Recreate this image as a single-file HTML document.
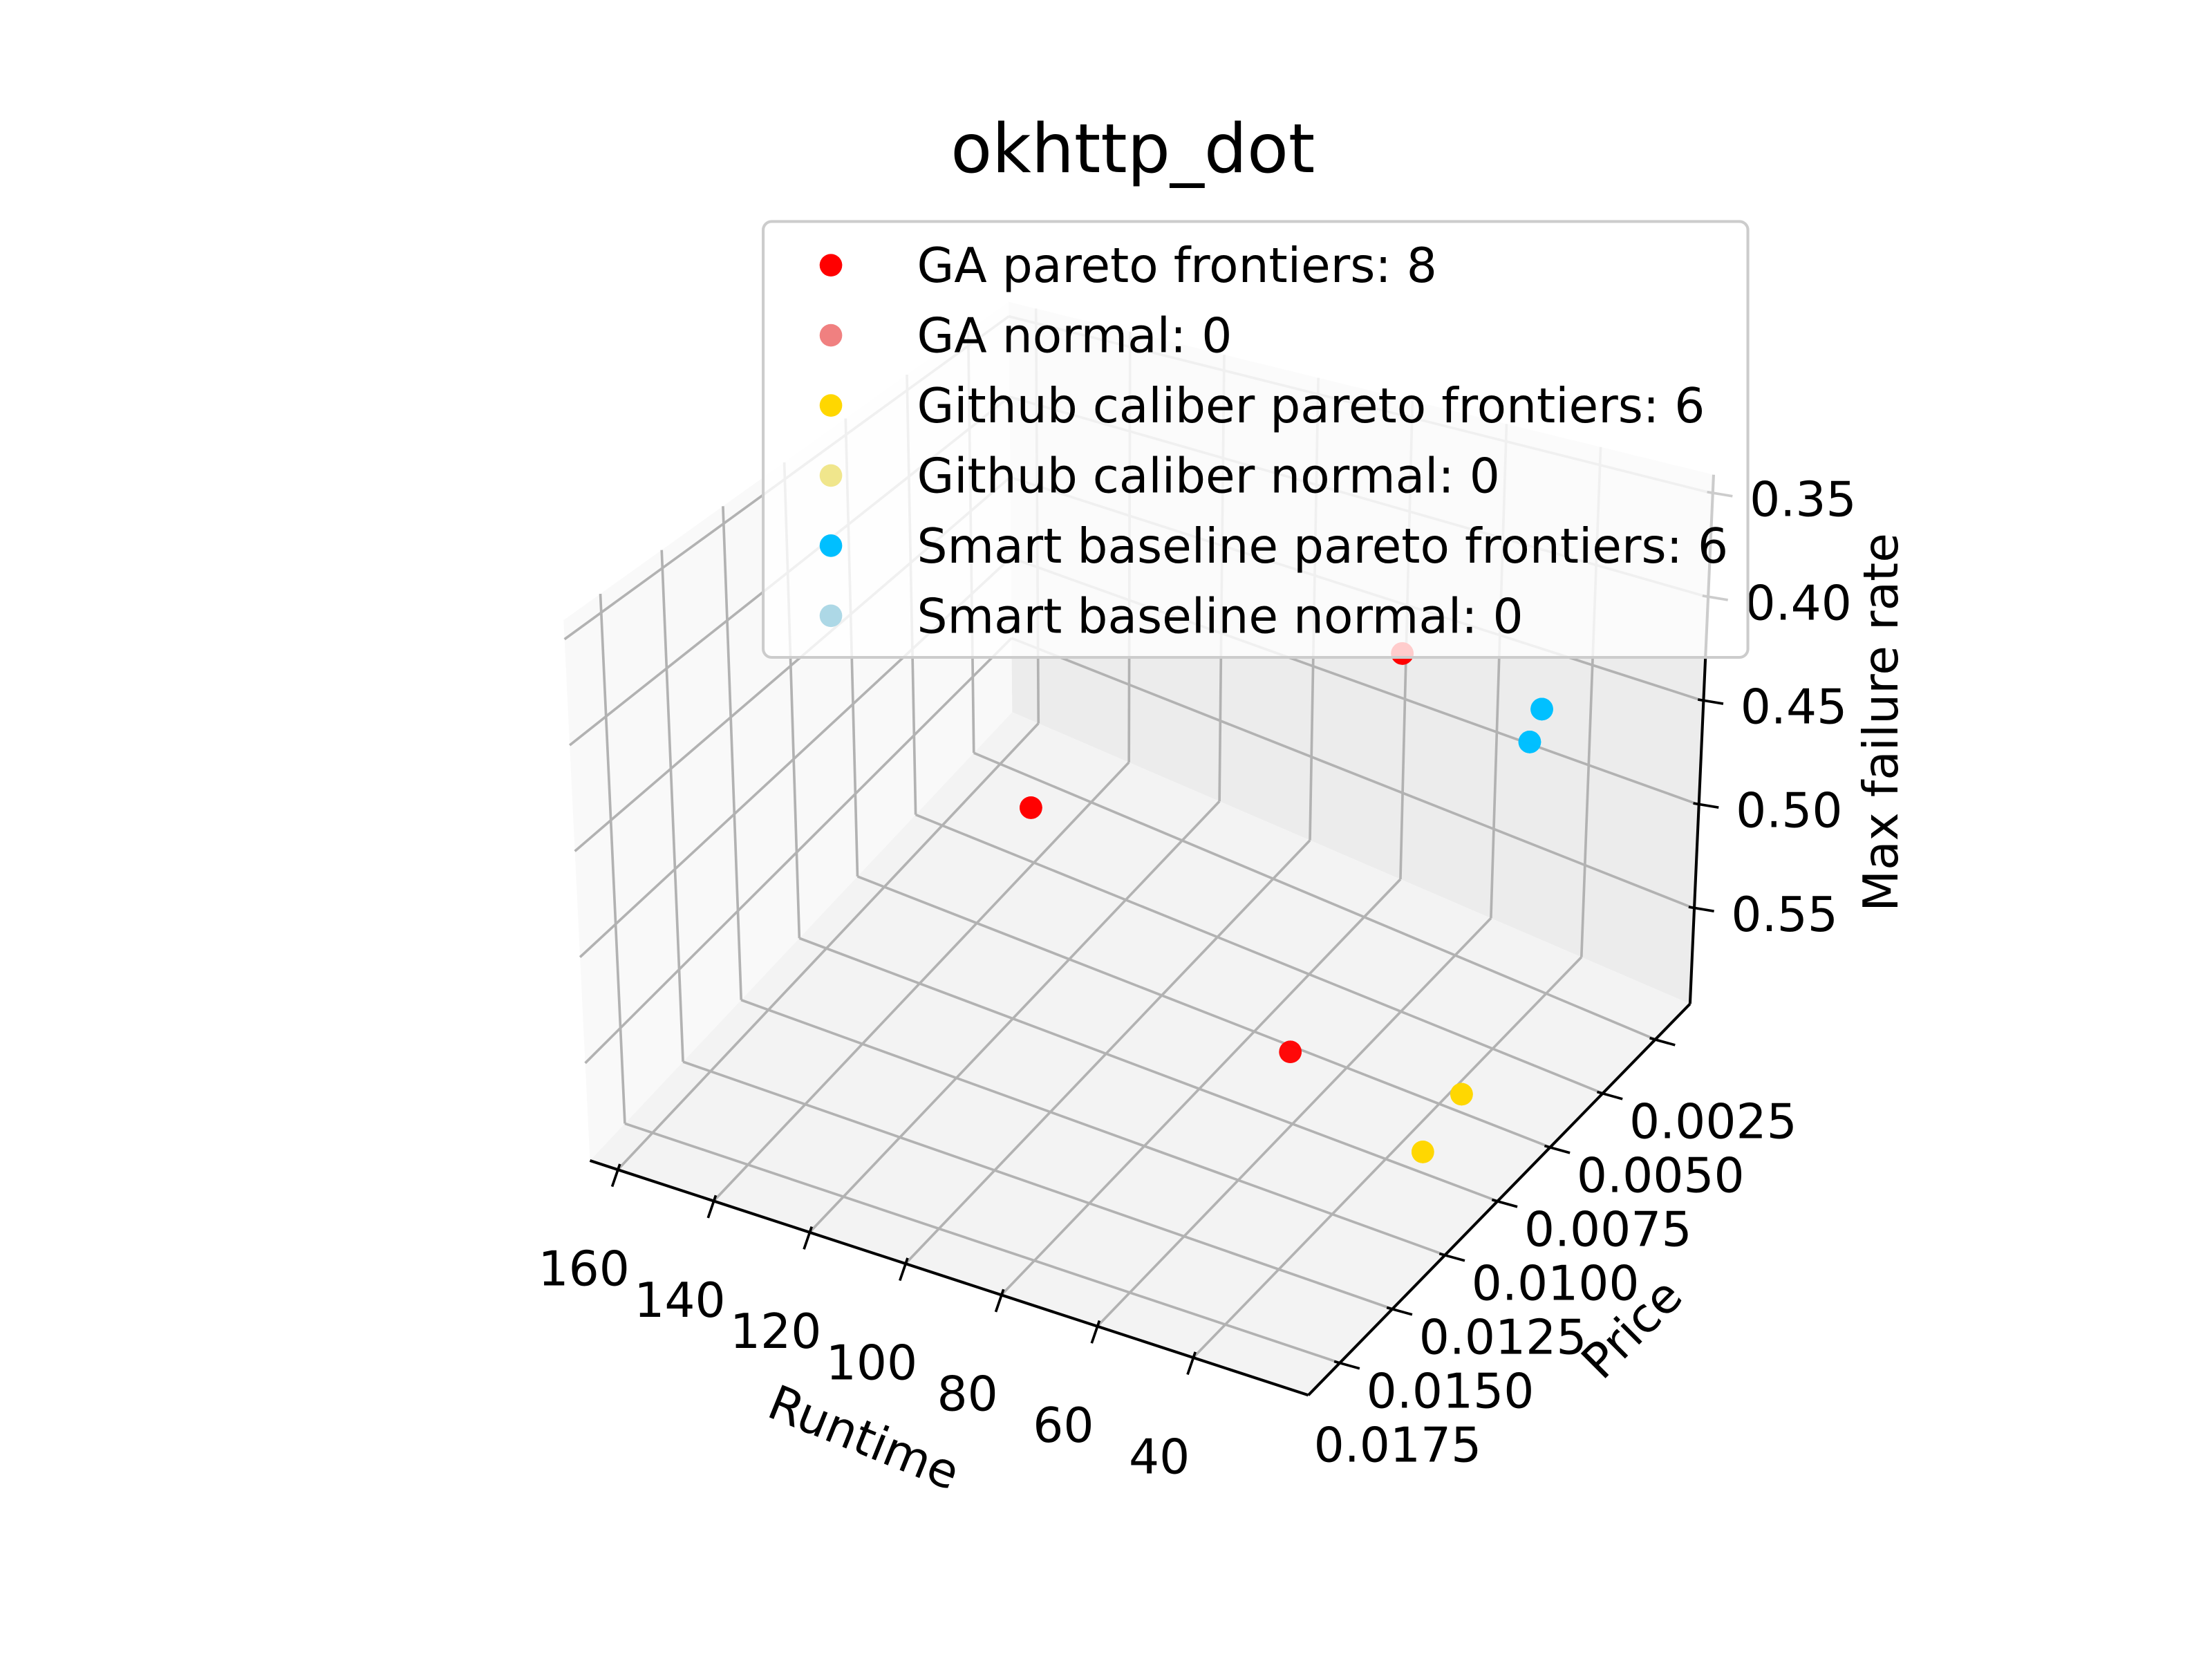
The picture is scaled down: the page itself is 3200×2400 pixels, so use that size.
<!DOCTYPE html>
<html><head><meta charset="utf-8"><style>
html,body{margin:0;padding:0;background:#fff;}
svg{display:block;}
text{font-family:"DejaVu Sans","Liberation Sans",sans-serif;fill:#000;}
</style></head><body>
<svg id="chart" width="3200" height="2400" viewBox="0 0 1568 1176" xmlns="http://www.w3.org/2000/svg">
<rect width="1568" height="1176" fill="#fff"/>
<g id="panes"></g><g id="grid"></g><g id="axes"></g><g id="pts"></g>
<text x="803" y="122" font-size="48" text-anchor="middle">okhttp_dot</text>
<g id="legend">
<rect x="541" y="157" width="698" height="309" rx="6" fill="#fff" fill-opacity="0.8" stroke="#cccccc" stroke-width="2"/>
</g>
</svg>
<script>
const categories = ["GA pareto frontiers: 8","GA normal: 0","Github caliber pareto frontiers: 6","Github caliber normal: 0","Smart baseline pareto frontiers: 6","Smart baseline normal: 0"];
const gaRuntime = [65.3, 114.6, 76.5, 76.5, 114.6, 65.3, 76.5, 114.6];
const gaPrice = [0.00898, 0.0102, 0.00176, 0.00176, 0.0102, 0.00898, 0.00176, 0.0102];
const gaFail = [0.5775, 0.485, 0.4635, 0.4635, 0.485, 0.5775, 0.4635, 0.485];
const ghRuntime = [33.9, 36.0, 33.9, 36.0, 33.9, 36.0];
const ghPrice = [0.0096, 0.00733, 0.0096, 0.00733, 0.0096, 0.00733];
const ghFail = [0.592, 0.590, 0.592, 0.590, 0.592, 0.590];
const sbRuntime = [46.7, 45.8, 46.7, 45.8, 46.7, 45.8];
const sbPrice = [0.00219, 0.00187, 0.00219, 0.00187, 0.00219, 0.00187];
const sbFail = [0.481, 0.467, 0.481, 0.467, 0.481, 0.467];
const runtimeTicks = [160, 140, 120, 100, 80, 60, 40];
const priceTicks = [0.0025, 0.005, 0.0075, 0.01, 0.0125, 0.015, 0.0175];
const priceTickLabels = ["0.0025","0.0050","0.0075","0.0100","0.0125","0.0150","0.0175"];
const failTicks = [0.35, 0.40, 0.45, 0.50, 0.55];
const failTickLabels = ["0.35","0.40","0.45","0.50","0.55"];

const NS = "http://www.w3.org/2000/svg";
const RMIN = 165.8, RMAX = 16.0, PFRONT = 0.019, PBACK = 0.00085, ZBOT = 0.596, ZTOP = 0.341;
const uOf = r => (RMIN - r) / (RMIN - RMAX);
const vOf = p => (PFRONT - p) / (PFRONT - PBACK);
const wOf = z => (ZBOT - z) / (ZBOT - ZTOP);
const K = {
 "000":[418.2,822.7],"100":[927.4,989],"110":[1198,711.6],"010":[717.5,504.8],
 "001":[399.5,439.6],"101":[928.6,525],"111":[1214.7,336.5],"011":[715,214]
};
function P(u,v,w){
  let x=0,y=0;
  for(const a of [0,1])for(const b of [0,1])for(const c of [0,1]){
    const f=(a?u:1-u)*(b?v:1-v)*(c?w:1-w);const k=K[""+a+b+c];x+=f*k[0];y+=f*k[1];}
  return [x,y];
}
function mk(tag,attrs,parent){const e=document.createElementNS(NS,tag);for(const k in attrs)e.setAttribute(k,attrs[k]);parent.appendChild(e);return e;}
function poly(pts,fill,parent,name){const e=mk("polygon",{points:pts.map(p=>p.join(",")).join(" "),fill:fill},parent);

}
function line(a,b,stroke,sw,parent,name){const e=mk("line",{x1:a[0],y1:a[1],x2:b[0],y2:b[1],stroke:stroke,"stroke-width":sw},parent);

return e;}
const panes=document.getElementById("panes"),grid=document.getElementById("grid"),axes=document.getElementById("axes"),pts=document.getElementById("pts");
poly([P(0,0,0),P(0,1,0),P(0,1,1),P(0,0,1)],"#f9f9f9",panes,"left-pane");
poly([P(0,1,0),P(1,1,0),P(1,1,1),P(0,1,1)],"#ececec",panes,"back-pane");
poly([P(0,0,0),P(1,0,0),P(1,1,0),P(0,1,0)],"#f3f3f3",panes,"floor-pane");
const GC="#b2b2b2",GW=1.8;
runtimeTicks.forEach(r=>{const u=uOf(r);
  line(P(u,0,0),P(u,1,0),GC,GW,grid,"floor-grid-runtime");
  line(P(u,1,0),P(u,1,1),GC,GW,grid,"back-grid-runtime");});
priceTicks.forEach(p=>{const v=vOf(p);
  line(P(0,v,0),P(1,v,0),GC,GW,grid,"floor-grid-price");
  line(P(0,v,0),P(0,v,1),GC,GW,grid,"left-grid-price");});
failTicks.forEach(z=>{const w=wOf(z);
  line(P(0,1,w),P(1,1,w),GC,GW,grid,"back-grid-fail");
  line(P(0,0,w),P(0,1,w),GC,GW,grid,"left-grid-fail");});
line(P(0,0,0),P(1,0,0),"#000",2,axes,"runtime-axis-line");
line(P(1,0,0),P(1,1,0),"#000",2,axes,"price-axis-line");
line(P(1,1,0),P(1,1,1),"#000",2,axes,"fail-axis-line");
function txt(x,y,s,size,anchor,rot,name){const e=mk("text",{x:x,y:y,"font-size":size,"text-anchor":anchor},axes);
 if(rot)e.setAttribute("transform","rotate("+rot+" "+x+" "+y+")");e.textContent=s;
 
 }
runtimeTicks.forEach(r=>{const p=P(uOf(r),0,0);
  line([p[0]+1.5,p[1]-4],[p[0]-4,p[1]+12],"#000",1.8,axes,"runtime-tick");
  txt(p[0]-24,p[1]+82,String(r),34,"middle",0,"runtime-tick-label");});
priceTicks.forEach((t,i)=>{const p=P(1,vOf(t),0);
  line([p[0]-4,p[1]-1],[p[0]+14,p[1]+4],"#000",1.8,axes,"price-tick");
  txt(p[0]+41,p[1]+70,priceTickLabels[i],34,"middle",0,"price-tick-label");});
failTicks.forEach((t,i)=>{const p=P(1,1,wOf(t));
  line([p[0]-4,p[1]-1],[p[0]+14,p[1]+2],"#000",1.8,axes,"fail-tick");
  txt(p[0]+64,p[1]+16,failTickLabels[i],34,"middle",0,"fail-tick-label");});
txt(608,1030,"Runtime",34,"middle",22,"runtime-axis-title");
txt(1165,950,"Price",34,"middle",-45,"price-axis-title");
txt(1345,512,"Max failure rate",34,"middle",-90,"fail-axis-title");
function series(R,Pr,F,color,name){R.forEach((r,i)=>{const p=P(uOf(r),vOf(Pr[i]),wOf(F[i]));
  const c=mk("circle",{cx:p[0],cy:p[1],r:8,fill:color,"fill-opacity":0.8},pts);
  
  });}
series(gaRuntime,gaPrice,gaFail,"#ff0000","ga-pareto-point");
series(ghRuntime,ghPrice,ghFail,"#ffd700","github-caliber-pareto-point");
series(sbRuntime,sbPrice,sbFail,"#00bfff","smart-baseline-pareto-point");
const legendColors=["#ff0000","#f08080","#ffd700","#f0e68c","#00bfff","#add8e6"];
const lg=document.getElementById("legend");
categories.forEach((c,i)=>{const y=188+i*49.7;
  const m=mk("circle",{cx:589,cy:y,r:8,fill:legendColors[i]},lg);
  
  
  const t=mk("text",{x:650,y:y+12,"font-size":34},lg);t.textContent=c;
  
  });
</script>
</body></html>
